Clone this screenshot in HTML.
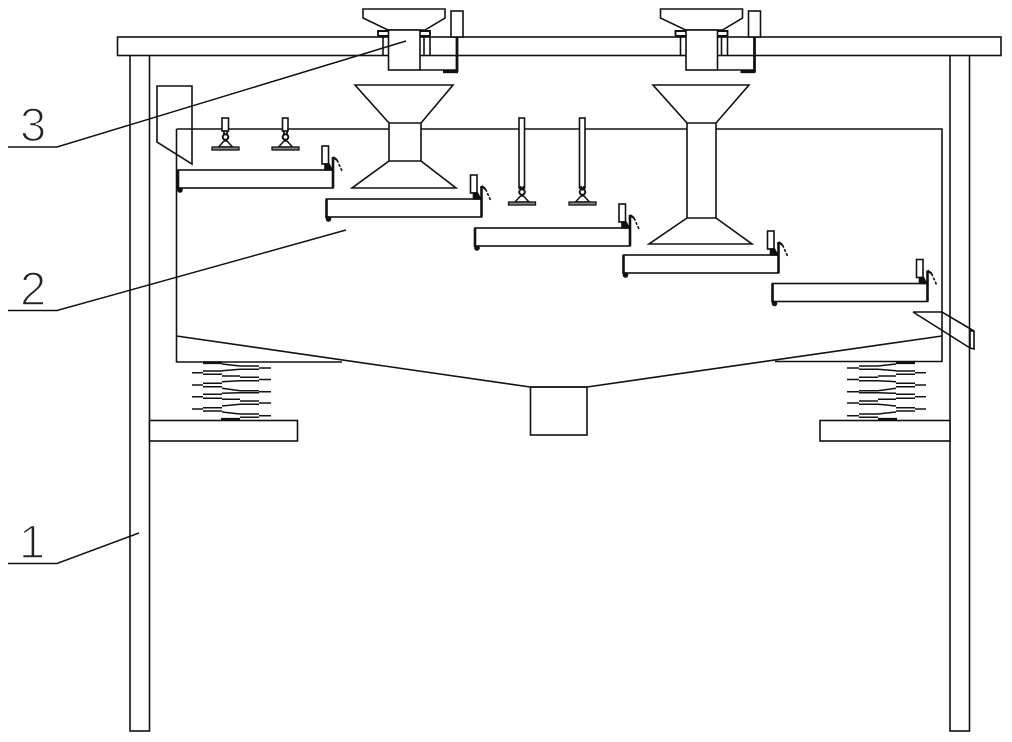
<!DOCTYPE html>
<html>
<head>
<meta charset="utf-8">
<style>
html,body{margin:0;padding:0;background:#fff;width:1012px;height:742px;overflow:hidden}
svg{display:block}
.n{font-family:"Liberation Sans",sans-serif;font-size:47px;fill:#222;stroke:#fff;stroke-width:1.6px}
</style>
</head>
<body>
<svg width="1012" height="742" viewBox="0 0 1012 742" xmlns="http://www.w3.org/2000/svg">
<defs>
<g id="tray" fill="none" stroke="#111" stroke-width="1.6">
  <rect x="178" y="170" width="155" height="18" fill="#fff"/>
  <path d="M178 170V189" stroke-width="2.6"/>
  <path d="M333 157V188" stroke-width="2.6"/>
  <circle cx="180" cy="190" r="2" fill="#111"/>
  <rect x="322" y="146" width="6.500" height="18" fill="#fff"/>
  <path d="M325 170V164H329L332 170Z" fill="#111"/>
  <path d="M333 157L337 160" stroke-width="2.2"/>
  <path d="M337 160L342 171" stroke-dasharray="3 1.500" stroke-width="1.6"/>
</g>
<g id="spring" fill="none" stroke="#111" stroke-width="1.5">
  <path d="M203 362.700H222" stroke-width="2.800"/>
  <path d="M192 372.700H203M192 385H203M192 396.700H203M192 409H203"/>
  <path d="M203 371H222M203 374.300H222M203 383.300H222M203 386.700H222M203 394.300H222M203 398.300H222M203 407.700H222M203 411H222"/>
  <path d="M222 364L240 366M222 370.700L240 369.300M222 376H240M222 381.700L240 380.700M222 388.300L240 390.700M222 393.300L240 392.700M222 399.300H240M222 406L240 404.300M222 412L240 414"/>
  <path d="M221 419.300H240" stroke-width="2.800"/>
  <path d="M240 366H259M240 369.300H259M240 377.300H259M240 380.700H259M240 390.700H259M240 392.700H259M240 401H259M240 404.300H259M240 414H259M240 417.300H259"/>
  <path d="M259 368H271M259 379.500H271M259 391.700H271M259 403H271M259 415.700H271"/>
</g>
<g id="feeder" fill="none" stroke="#111" stroke-width="1.6">
  <path d="M383 37V55M430 37V55M424 37V55"/>
  <path d="M378 36V31H388M420 31H430V36M378 36H388M420 36H430" stroke-width="1.900"/>
  <path d="M363 9H445V18L425 30H388L363 18Z" fill="#fff"/>
  <rect x="388.500" y="30" width="31.500" height="40" fill="#fff"/>
  <rect x="451" y="11" width="12" height="26" fill="#fff"/>
  <path d="M420 70H457"/>
  <path d="M457 37V72" stroke-width="2.800"/>
  <path d="M443 71.500H458" stroke-width="3.400"/>
</g>
<g id="cup" fill="none" stroke="#111" stroke-width="1.5">
  <path d="M-1.500 141H1.500L7 147H-7Z" fill="#fff"/>
  <path d="M-1.500 131V135M1.500 131V135" stroke-width="1.800"/>
  <circle cx="0" cy="137" r="2.800" fill="#fff" stroke-width="2"/>
  <rect x="-13.500" y="147" width="27" height="3" fill="#888" stroke-width="1.300"/>
</g>
</defs>

<g fill="none" stroke="#111" stroke-width="1.6">
  <rect x="130" y="55" width="19.500" height="676"/>
  <rect x="950" y="55" width="19.500" height="676"/>
  <rect x="117.500" y="37" width="883.500" height="18.500" fill="#fff"/>

  <path d="M176.500 129H942V361.500H775M176.500 129V362H342"/>
  <path d="M176.500 336L530 387H587L942 336"/>
  <rect x="530.500" y="387" width="56.500" height="48"/>

  <rect x="149.500" y="420.500" width="148" height="20.500" fill="#fff"/>
  <rect x="820" y="420.500" width="130" height="20.500" fill="#fff"/>

  <path d="M157 86H192V164L157 142Z"/>

  <path d="M913 312H942L974 331V349L970 348V331M970 348L913 312M970 331H974"/>

  <path d="M355 85H453L421 123V161L456 188H352L389 161V123Z" fill="#fff"/>
  <path d="M389 123H421M389 161H421"/>
  <path d="M653 85H749L716 123V218L752 244H649L687 218V123Z" fill="#fff"/>
  <path d="M687 123H716M687 218H716"/>

  <rect x="222" y="118" width="6.500" height="13" fill="#fff"/>
  <rect x="282.500" y="118" width="5.500" height="13" fill="#fff"/>
  <rect x="519" y="118" width="5.500" height="70" fill="#fff"/>
  <rect x="579.500" y="118" width="5.500" height="70" fill="#fff"/>
</g>

<use href="#cup" transform="translate(225.500,0)"/>
<use href="#cup" transform="translate(285.500,0)"/>
<use href="#cup" transform="translate(522,55)"/>
<use href="#cup" transform="translate(582.500,55)"/>

<use href="#tray"/>
<use href="#tray" transform="translate(148.500,29)"/>
<use href="#tray" transform="translate(297,58)"/>
<use href="#tray" transform="translate(445.500,85)"/>
<use href="#tray" transform="translate(594.500,113.500)"/>

<use href="#spring"/>
<use href="#spring" transform="translate(1118,0) scale(-1,1)"/>

<use href="#feeder"/>
<use href="#feeder" transform="translate(297.500,0)"/>

<g fill="none" stroke="#111" stroke-width="1.500">
  <path d="M8 147H57L406 41"/>
  <path d="M8 310.500H57L346 230"/>
  <path d="M8 563.500H57L139 533"/>
</g>

<text class="n" x="20" y="141">3</text>
<text class="n" x="20" y="305">2</text>
<text class="n" x="19" y="558">1</text>
</svg>
</body>
</html>
